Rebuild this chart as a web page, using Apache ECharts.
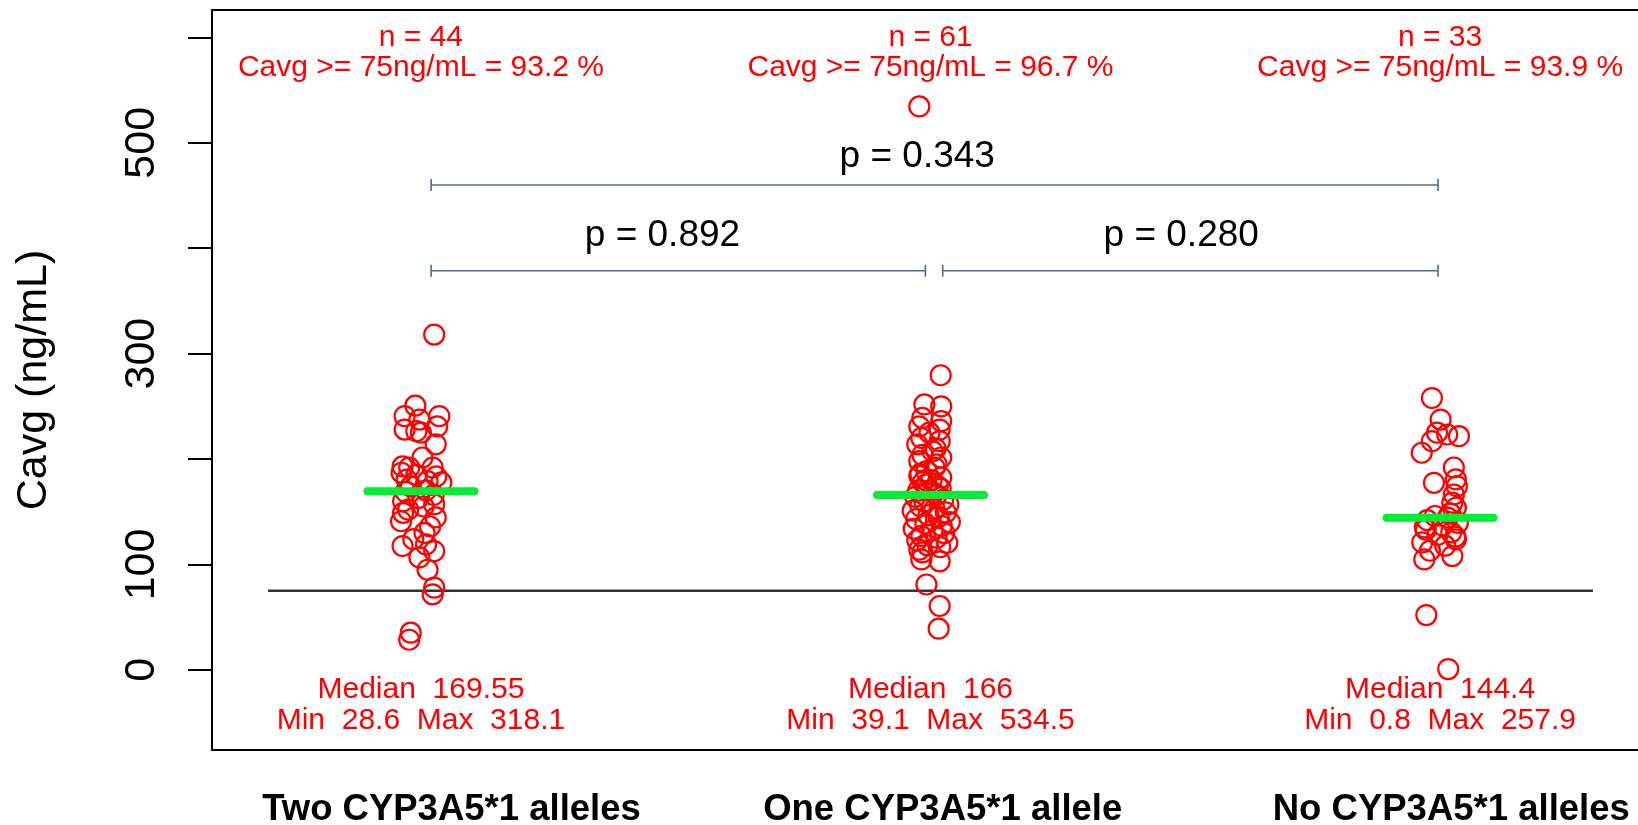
<!DOCTYPE html>
<html>
<head>
<meta charset="utf-8">
<script src="https://cdn.jsdelivr.net/npm/echarts@6/dist/echarts.min.js"></script>
<style>
html,body{margin:0;padding:0;background:#fff;}
#chart{width:1638px;height:825px;}
</style>
</head>
<body>
<div id="chart"></div>
<script>
// ---------------- data ----------------
const categories = ['Two CYP3A5*1 alleles', 'One CYP3A5*1 allele', 'No CYP3A5*1 alleles'];
const nCounts = [44, 61, 33];
const pctAbove = ['93.2', '96.7', '93.9'];
const medians = [169.55, 166, 144.4];
const mins = [28.6, 39.1, 0.8];
const maxs = [318.1, 534.5, 257.9];
const threshold = 75;
const yTicks = [0, 100, 200, 300, 400, 500, 600];
const yTickLabels = [0, 100, 300, 500];
// pairwise comparisons: [group a, group b, p value]
const comparisons = [[1, 2, '0.892'], [2, 3, '0.280'], [1, 3, '0.343']];

const group1Values = [318.1, 250.6, 240.7, 240.7, 237.5, 228, 226.5, 231, 225, 214, 201.5, 193, 192, 192, 187, 185, 183.5, 180.5, 179, 177.8, 174, 170.2,
  168.9, 166, 163, 160, 157, 155, 152, 149, 144.6, 141, 136, 130, 124, 119, 117.5, 112.7, 106.7, 95, 78, 71.7, 35.3, 28.6];
const group1Jitter = [0.026, -0.011, -0.032, 0.036, -0.003, -0.032, -0.009, 0.032, 0.000, 0.029, 0.003, -0.036, -0.023, 0.023, -0.038, -0.009, 0.030, -0.028, 0.013, 0.040, -0.020, 0.010,
  -0.030, 0.025, -0.005, -0.035, 0.026, 0.005, -0.025, -0.035, 0.029, -0.039, 0.018, 0.007, -0.015, 0.010, -0.036, 0.026, -0.003, 0.013, 0.026, 0.023, -0.020, -0.023];

const group2Values = [534.5, 279.5, 251.8, 250, 239, 236, 231, 228, 225, 220, 217, 214, 210, 207.5, 204, 201.5, 198, 195, 192, 188.5, 186, 184, 182.5, 180, 178, 176, 174.3, 172, 170, 168,
  166,
  164.2, 161.5, 159.8, 157, 155.3, 152.6, 151, 149.4, 146.8, 145.1, 143, 140.2, 138.7, 136.5, 133.9, 132.4, 129.8, 127.1, 125.5, 123, 120.6, 118.2, 116.4, 114,
  111.5, 104.8, 103, 81, 60.6, 39.1];
const group2Jitter = [-0.022, 0.020, -0.012, 0.021, -0.016, 0.021, -0.022, 0.018, -0.002, -0.018, 0.018, -0.026, 0.010, 0.004, -0.016, 0.021, -0.022, 0.012, 0.008, -0.008, -0.020, -0.022, 0.021, 0.002, -0.015, -0.008, 0.014, 0.020, -0.024, 0.006,
  0.012,
  -0.030, 0.025, -0.012, 0.035, -0.020, 0.008, -0.035, 0.030, -0.004, 0.016, -0.028, 0.038, -0.010, 0.022, -0.033, 0.004, 0.027, -0.018, 0.012, -0.026, 0.033, -0.006, 0.019, -0.022,
  -0.016, -0.018, 0.018, -0.008, 0.018, 0.016];

const group3Values = [257.9, 237.5, 225, 223.3, 221.7, 217, 206, 192, 180.7, 177.5, 174.3, 166.4, 158.6, 153.8, 148.5, 146,
  144.4,
  142, 139.5, 137, 135.2, 133, 130.5, 128, 126.4, 123.8, 121, 117.8, 113, 108, 104.8, 52, 0.8];
const group3Jitter = [-0.016, 0.001, -0.006, 0.014, 0.037, -0.016, -0.036, 0.027, 0.031, -0.012, 0.033, 0.027, 0.024, 0.031, 0.020, -0.010,
  0.015,
  -0.025, 0.035, 0.005, -0.030, -0.028, 0.022, -0.005, 0.030, 0.031, -0.035, 0.010, -0.020, 0.024, -0.031, -0.027, 0.016];

// ---------------- chart ----------------
const FONT = "'Liberation Sans', Arial, Helvetica, sans-serif";
const groups = [[group1Values, group1Jitter], [group2Values, group2Jitter], [group3Values, group3Jitter]];
const pointData = [];
groups.forEach(([vals, jit], g) => vals.forEach((v, i) => pointData.push([g + 1 + jit[i], v])));

const chart = echarts.init(document.getElementById('chart'), null, {renderer: 'canvas'});

const annotations = [];
categories.forEach((c, i) => {
  annotations.push([i + 1, 600, 'n = ' + nCounts[i]]);
  annotations.push([i + 1, 571, 'Cavg >= 75ng/mL = ' + pctAbove[i] + ' %']);
  annotations.push([i + 1, -19, 'Median  ' + medians[i]]);
  annotations.push([i + 1, -48, 'Min  ' + mins[i] + '  Max  ' + maxs[i]]);
});

const bracketLevel = {'1-2': 378.7, '2-3': 378.7, '1-3': 460};
const pLabelLift = {'1-2': 33, '2-3': 33, '1-3': 27};
const pLabelShift = {'1-2': -0.026, '2-3': -0.008, '1-3': -0.026};
const labelCenters = [1.06, 2.024, 3.022];

const option = {
  animation: false,
  backgroundColor: '#fff',
  grid: {left: 212, top: 10, width: 1437, height: 740, show: true, borderColor: '#000', borderWidth: 2,
    backgroundColor: 'transparent', containLabel: false, outerBoundsMode: 'none'},
  xAxis: {
    type: 'value', min: 0.59, max: 3.41,
    axisLine: {show: false}, axisTick: {show: false}, splitLine: {show: false},
    axisLabel: {
      customValues: labelCenters,
      formatter: v => categories[Math.round(v) - 1],
      margin: 41, fontSize: 36.5, fontWeight: 'bold', color: '#000', fontFamily: FONT
    }
  },
  yAxis: {
    type: 'value', min: -76, max: 626,
    name: 'Cavg (ng/mL)', nameLocation: 'middle', nameRotate: 90, nameGap: 156,
    nameTextStyle: {fontSize: 43, color: '#000', fontFamily: FONT},
    axisLine: {show: false}, splitLine: {show: false},
    axisTick: {show: true, customValues: yTicks, length: 24, lineStyle: {color: '#000', width: 2}},
    axisLabel: {customValues: yTickLabels, rotate: 90, margin: 48, fontSize: 43, color: '#000', fontFamily: FONT}
  },
  series: [
    {
      type: 'custom', name: 'brackets', z: 2,
      data: comparisons.map(c => [c[0], c[1]]),
      renderItem: (params, api) => {
        const a = api.value(0), b = api.value(1);
        const y = bracketLevel[a + '-' + b];
        const x1 = a + 0.02 + (a === 2 ? 0.004 : 0), x2 = b - (b === 2 ? 0.01 : 0.004);
        const p1 = api.coord([x1, y]), p2 = api.coord([x2, y]);
        const h = 6;
        const st = {stroke: '#4d6c93', lineWidth: 1.6};
        return {type: 'group', children: [
          {type: 'line', shape: {x1: p1[0], y1: p1[1], x2: p2[0], y2: p2[1]}, style: st},
          {type: 'line', shape: {x1: p1[0], y1: p1[1] - h, x2: p1[0], y2: p1[1] + h}, style: st},
          {type: 'line', shape: {x1: p2[0], y1: p2[1] - h, x2: p2[0], y2: p2[1] + h}, style: st}
        ]};
      }
    },
    {
      type: 'custom', name: 'pvalues', z: 3,
      data: comparisons.map(c => [(c[0] + c[1]) / 2, c[2]]),
      renderItem: (params, api) => {
        const c = comparisons[params.dataIndex];
        const key = c[0] + '-' + c[1];
        const y = bracketLevel[key] + pLabelLift[key];
        const xm = (c[0] + c[1]) / 2 + pLabelShift[key];
        const p = api.coord([xm, y]);
        return {type: 'text', x: p[0], y: p[1], style: {text: 'p = ' + c[2], fill: '#000', font: '37px ' + FONT, textAlign: 'center', textVerticalAlign: 'middle'}};
      }
    },
    {
      type: 'custom', name: 'threshold', z: 3,
      data: [[threshold]],
      renderItem: (params, api) => {
        const y = api.value(0);
        const p1 = api.coord([0.7, y]), p2 = api.coord([3.3, y]);
        return {type: 'line', shape: {x1: p1[0], y1: p1[1], x2: p2[0], y2: p2[1]}, style: {stroke: '#333', lineWidth: 2.5}};
      }
    },
    {
      type: 'scatter', name: 'Cavg', z: 4,
      data: pointData,
      symbol: 'circle', symbolSize: 20,
      itemStyle: {color: 'rgba(0,0,0,0)', borderColor: '#ff0000', borderWidth: 2.2, opacity: 1},
      emphasis: {disabled: true}
    },
    {
      type: 'custom', name: 'medians', z: 5,
      data: medians.map((m, i) => [i + 1, m]),
      renderItem: (params, api) => {
        const x = api.value(0), y = api.value(1);
        const p1 = api.coord([x - 0.105, y]), p2 = api.coord([x + 0.105, y]);
        return {type: 'line', shape: {x1: p1[0], y1: p1[1], x2: p2[0], y2: p2[1]}, style: {stroke: '#00ee33', lineWidth: 8, lineCap: 'round'}};
      }
    },
    {
      type: 'custom', name: 'annotations', z: 6,
      data: annotations.map(a => [a[0], a[1]]),
      renderItem: (params, api) => {
        const p = api.coord([api.value(0), api.value(1)]);
        return {type: 'text', x: p[0], y: p[1], style: {text: annotations[params.dataIndex][2], fill: '#ff0000', font: '30px ' + FONT, textAlign: 'center', textVerticalAlign: 'middle'}};
      }
    }
  ]
};
chart.setOption(option);
</script>
</body>
</html>
